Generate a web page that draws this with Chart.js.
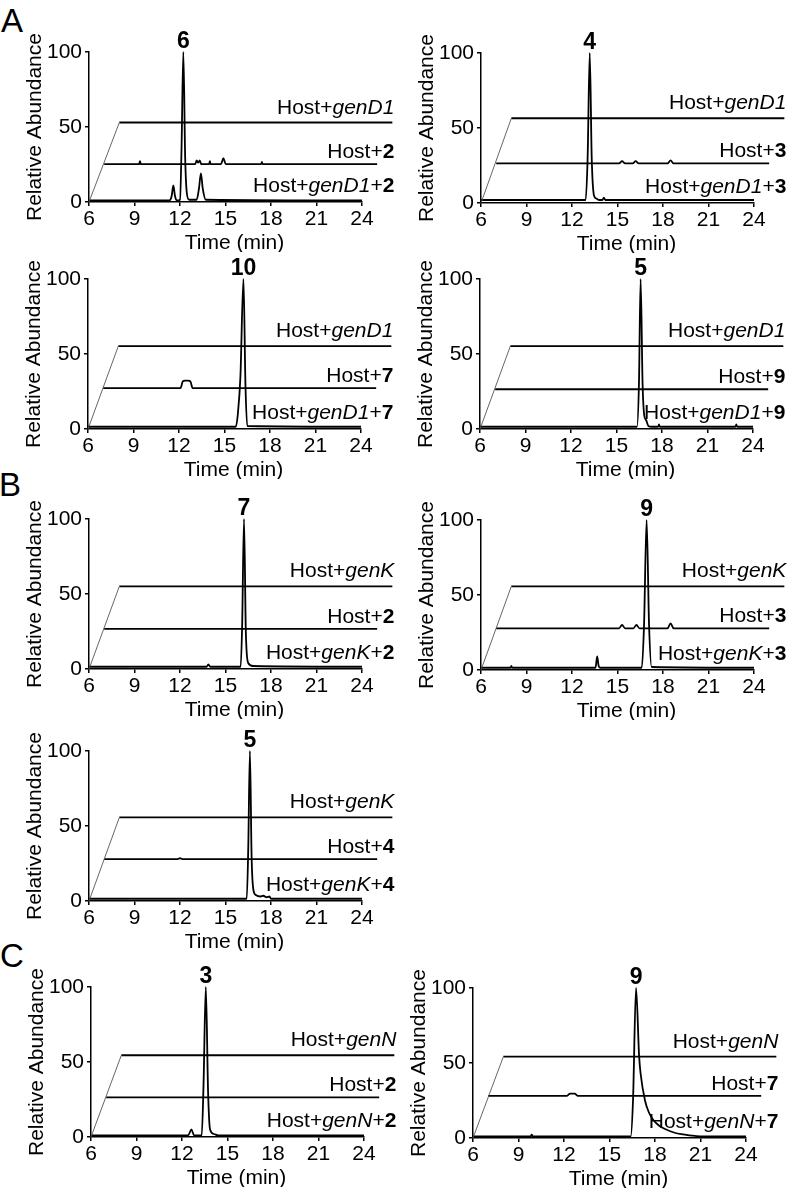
<!DOCTYPE html>
<html>
<head>
<meta charset="utf-8">
<script src="https://cdn.jsdelivr.net/npm/chart.js@4.4.1/dist/chart.umd.min.js"></script>
<style>
  html, body { margin: 0; padding: 0; background: #fff; }
  body { width: 793px; height: 1193px; position: relative; overflow: hidden; }
  canvas.panel { position: absolute; }
  .letter {
    position: absolute;
    font-family: 'Liberation Sans', Arial, sans-serif;
    font-size: 33px;
    line-height: 1;
    color: #000;
  }
</style>
</head>
<body>
<div class="letter" style="left:1px;top:4px;">A</div>
<div class="letter" style="left:-1px;top:468px;">B</div>
<div class="letter" style="left:0px;top:939px;">C</div>

<canvas class="panel" id="a1" width="400" height="245" style="left:9px;top:7px;"></canvas>
<canvas class="panel" id="a2" width="400" height="245" style="left:401px;top:8px;"></canvas>
<canvas class="panel" id="a3" width="400" height="245" style="left:8px;top:234px;"></canvas>
<canvas class="panel" id="a4" width="400" height="245" style="left:400px;top:234px;"></canvas>
<canvas class="panel" id="b1" width="400" height="245" style="left:9px;top:474px;"></canvas>
<canvas class="panel" id="b2" width="400" height="245" style="left:401px;top:475px;"></canvas>
<canvas class="panel" id="b3" width="400" height="245" style="left:9px;top:706px;"></canvas>
<canvas class="panel" id="c1" width="400" height="245" style="left:11px;top:942px;"></canvas>
<canvas class="panel" id="c2" width="400" height="245" style="left:393px;top:943px;"></canvas>

<script>
// Axis ticks
const timeTicks = [6, 9, 12, 15, 18, 21, 24];
const abundanceTicks = [0, 50, 100];

// Each trace: [time (min), relative abundance]
// Panel A, top left: Host+genD1+2 -> 6
const a1Front = [[6,1],[11.3,1],[11.45,4],[11.56,11],[11.67,4],[11.8,1],[12.0,1.5],[12.1,35],[12.22,100],[12.34,30],[12.45,6],[12.6,1.5],[13.1,1.5],[13.25,9],[13.38,19],[13.5,9],[13.7,1.5],[24,1]];
const a1Mid = [[6,0],[8.3,0],[8.36,2],[8.42,0],[12.0,0],[12.1,2.5],[12.2,1],[12.3,2.5],[12.4,0],[12.92,0],[12.97,2],[13.02,0],[13.7,0],[13.86,4],[14.02,0],[16.35,0],[16.4,1.5],[16.45,0],[24,0]];
const a1Back = [[6,0],[24,0]];

// Panel A, top right: Host+genD1+3 -> 4
const a2Front = [[6,2],[12.9,2],[13.03,30],[13.17,100],[13.3,30],[13.45,5],[13.6,3],[13.8,2],[14.0,2],[14.1,3.5],[14.2,2],[24,2]];
const a2Mid = [[6,0],[14.1,0],[14.3,1.5],[14.5,0],[15.0,0],[15.2,1.5],[15.4,0],[17.3,0],[17.5,2],[17.7,0],[24,0]];
const a2Back = [[6,0],[24,0]];

// Panel A, second row left: Host+genD1+7 -> 10
const a3Front = [[6,1.5],[15.75,1.5],[15.88,10],[16.05,35],[16.25,100],[16.38,30],[16.5,2],[24,1.5]];
const a3Mid = [[6,0],[11.1,0],[11.25,4.5],[11.4,5],[11.6,5],[11.75,4.5],[11.9,0],[24,0]];
const a3Back = [[6,0],[24,0]];

// Panel A, second row right: Host+genD1+9 -> 5
const a4Front = [[6,1.5],[16.35,1.5],[16.48,30],[16.59,100],[16.72,30],[16.83,9],[16.95,6],[17.1,2],[17.3,1.5],[17.75,1.5],[17.8,3],[17.85,1.5],[22.85,1.5],[22.9,3],[22.95,1.5],[24,1.5]];
const a4Mid = [[6,0],[24,0]];
const a4Back = [[6,0],[24,0]];

// Panel B, left: Host+genK+2 -> 7
const b1Front = [[6,1.5],[13.75,1.5],[13.87,3],[14.0,1.5],[16.0,1.5],[16.1,30],[16.22,100],[16.34,25],[16.5,4],[16.8,2],[24,1.5]];
const b1Mid = [[6,0],[24,0]];
const b1Back = [[6,0],[24,0]];

// Panel B, right: Host+genK+3 -> 9
const b2Front = [[6,1.5],[7.95,1.5],[8.0,2.8],[8.05,1.5],[13.55,1.5],[13.66,9],[13.75,3],[13.85,1.5],[16.6,1.5],[16.75,30],[16.92,100],[17.08,30],[17.25,2],[24,1.5]];
const b2Mid = [[6,0],[14.1,0],[14.3,2.2],[14.5,0],[15.05,0],[15.25,2.2],[15.45,0],[17.3,0],[17.5,3.3],[17.7,0],[24,0]];
const b2Back = [[6,0],[24,0]];

// Panel B, bottom: Host+genK+4 -> 5
const b3Front = [[6,1.5],[16.4,1.5],[16.5,35],[16.61,100],[16.72,30],[16.83,8],[17.0,4],[17.3,3],[17.5,3.5],[17.7,2.5],[17.9,3],[18.0,1.5],[24,1.5]];
const b3Mid = [[6,0],[10.8,0],[11.0,0.6],[11.2,0],[24,0]];
const b3Back = [[6,0],[24,0]];

// Panel C, left: Host+genN+2 -> 3
const c1Front = [[6,1],[12.4,1],[12.62,5],[12.8,1],[13.3,1],[13.42,35],[13.57,100],[13.72,30],[13.85,5],[14.1,2],[14.4,1],[24,1]];
const c1Mid = [[6,0],[24,0]];
const c1Back = [[6,0],[24,0]];

// Panel C, right: Host+genN+7 -> 9
const c2Front = [[6,1],[9.8,1],[9.87,2.2],[9.95,1],[16.4,1],[16.55,25],[16.75,100],[16.95,55],[17.05,43],[17.34,25],[17.6,17],[17.89,12],[18.3,8],[18.77,5.5],[19.3,3.5],[19.87,2.4],[20.4,1.6],[20.96,1.1],[24,1]];
const c2Mid = [[6,0],[11.2,0],[11.4,1.5],[11.7,1.5],[11.9,0],[24,0]];
const c2Back = [[6,0],[24,0]];

// Stacking offsets of the middle and back traces (order a1..a4, b1..b3, c1, c2)
const midLevels = [25.2, 26.4, 27.2, 26.5, 26.7, 27.8, 27.9, 26.4, 28.1];
const backLevels = [53.0, 56.5, 55.3, 55.2, 55.1, 55.8, 55.7, 54.5, 54.2];
const MID_SHIFT_X = 1;
const BACK_SHIFT_X = 2;

const peakLabels = ['6', '4', '10', '5', '7', '9', '5', '3', '9'];
const peakTimes = [12.22, 13.17, 16.25, 16.59, 16.22, 16.92, 16.61, 13.57, 16.75];
const genes = ['genD1', 'genD1', 'genD1', 'genD1', 'genK', 'genK', 'genK', 'genN', 'genN'];
const substrates = ['2', '3', '7', '9', '2', '3', '4', '2', '7'];

const panelIds = ['a1', 'a2', 'a3', 'a4', 'b1', 'b2', 'b3', 'c1', 'c2'];
const fronts = [a1Front, a2Front, a3Front, a4Front, b1Front, b2Front, b3Front, c1Front, c2Front];
const mids = [a1Mid, a2Mid, a3Mid, a4Mid, b1Mid, b2Mid, b3Mid, c1Mid, c2Mid];
const backs = [a1Back, a2Back, a3Back, a4Back, b1Back, b2Back, b3Back, c1Back, c2Back];

const FONT = "'Liberation Sans', Arial, Helvetica, sans-serif";

function shift(trace, dx, dy) {
    return trace.map(([t, v]) => ({ x: t + dx, y: v + dy }));
}

// Draw a label made of plain / italic / bold pieces, right aligned
function drawRich(ctx, segs, right, baseline) {
    const fonts = { n: `21px ${FONT}`, i: `italic 21px ${FONT}`, b: `bold 21px ${FONT}` };
    let total = 0;
    segs.forEach(([t, s]) => { ctx.font = fonts[s]; total += ctx.measureText(t).width; });
    let xx = right - total;
    ctx.textAlign = 'left';
    ctx.textBaseline = 'alphabetic';
    segs.forEach(([t, s]) => {
        ctx.font = fonts[s];
        ctx.fillText(t, xx, baseline);
        xx += ctx.measureText(t).width;
    });
}

const textPlugin = {
    id: 'panelText',
    afterDatasetsDraw(chart, args, opts) {
        const { ctx, chartArea, scales: { x, y } } = chart;
        ctx.save();
        ctx.fillStyle = '#000';

        // peak compound number
        ctx.font = `bold 23px ${FONT}`;
        ctx.textAlign = 'center';
        ctx.textBaseline = 'alphabetic';
        ctx.fillText(opts.peakLabel, x.getPixelForValue(opts.peakTime), y.getPixelForValue(100) - 4);

        // trace labels
        const right = x.getPixelForValue(24 + BACK_SHIFT_X) + 2;
        drawRich(ctx, [['Host+', 'n'], [opts.gene, 'i']], right, y.getPixelForValue(opts.backY) - 9);
        drawRich(ctx, [['Host+', 'n'], [opts.substrate, 'b']], right, y.getPixelForValue(opts.midY) - 6);
        drawRich(ctx, [['Host+', 'n'], [opts.gene, 'i'], ['+', 'n'], [opts.substrate, 'b']], right, y.getPixelForValue(0) - 10);

        // axis titles
        ctx.font = `21px ${FONT}`;
        ctx.textAlign = 'center';
        ctx.textBaseline = 'middle';
        ctx.fillText('Time (min)', (chartArea.left + chartArea.right) / 2 + 9, chartArea.bottom + 41);
        ctx.translate(26, (chartArea.top + chartArea.bottom) / 2);
        ctx.rotate(-Math.PI / 2);
        ctx.fillText('Relative Abundance', 0, 0);
        ctx.restore();
    }
};

function createPanel(i) {
    const midY = midLevels[i];
    const backY = backLevels[i];
    const traceStyle = {
        borderColor: '#000',
        borderWidth: 1.8,
        pointRadius: 0,
        fill: false,
        clip: false,
        cubicInterpolationMode: 'monotone'
    };
    const datasets = [
        {
            data: [{ x: 6, y: 0 }, { x: 6 + BACK_SHIFT_X, y: backY }],
            borderColor: '#555',
            borderWidth: 0.9,
            pointRadius: 0,
            clip: false
        },
        Object.assign({ data: shift(backs[i], BACK_SHIFT_X, backY) }, traceStyle),
        Object.assign({ data: shift(mids[i], MID_SHIFT_X, midY) }, traceStyle),
        Object.assign({ data: shift(fronts[i], 0, 0) }, traceStyle)
    ];

    const axisCommon = {
        border: { display: true, color: '#000', width: 1.5 },
        grid: { drawOnChartArea: false, drawTicks: true, tickLength: 4, color: '#000', lineWidth: 1.5 },
    };

    new Chart(document.getElementById(panelIds[i]), {
        type: 'line',
        data: { datasets },
        options: {
            responsive: false,
            animation: false,
            events: [],
            layout: { padding: { left: 0, top: 45, right: 47, bottom: 0 } },
            plugins: {
                legend: { display: false },
                tooltip: { enabled: false },
                panelText: {
                    peakLabel: peakLabels[i],
                    peakTime: peakTimes[i],
                    gene: genes[i],
                    substrate: substrates[i],
                    midY: midY,
                    backY: backY
                }
            },
            scales: {
                x: Object.assign({
                    type: 'linear',
                    bounds: 'data',
                    afterDataLimits: (s) => { s.min = timeTicks[0]; s.max = timeTicks[timeTicks.length - 1]; },
                    afterBuildTicks: (s) => { s.ticks = timeTicks.map(v => ({ value: v })); },
                    afterFit: (s) => { s.height = 50; },
                    ticks: { color: '#000', font: { family: FONT, size: 21 }, padding: 1, maxRotation: 0, autoSkip: false }
                }, axisCommon),
                y: Object.assign({
                    min: 0,
                    max: 100,
                    afterBuildTicks: (s) => { s.ticks = abundanceTicks.map(v => ({ value: v })); },
                    afterFit: (s) => { s.width = 80; },
                    ticks: { color: '#000', font: { family: FONT, size: 21 }, padding: 3 }
                }, axisCommon)
            }
        },
        plugins: [textPlugin]
    });
}

panelIds.forEach((id, i) => createPanel(i));
</script>
</body>
</html>
